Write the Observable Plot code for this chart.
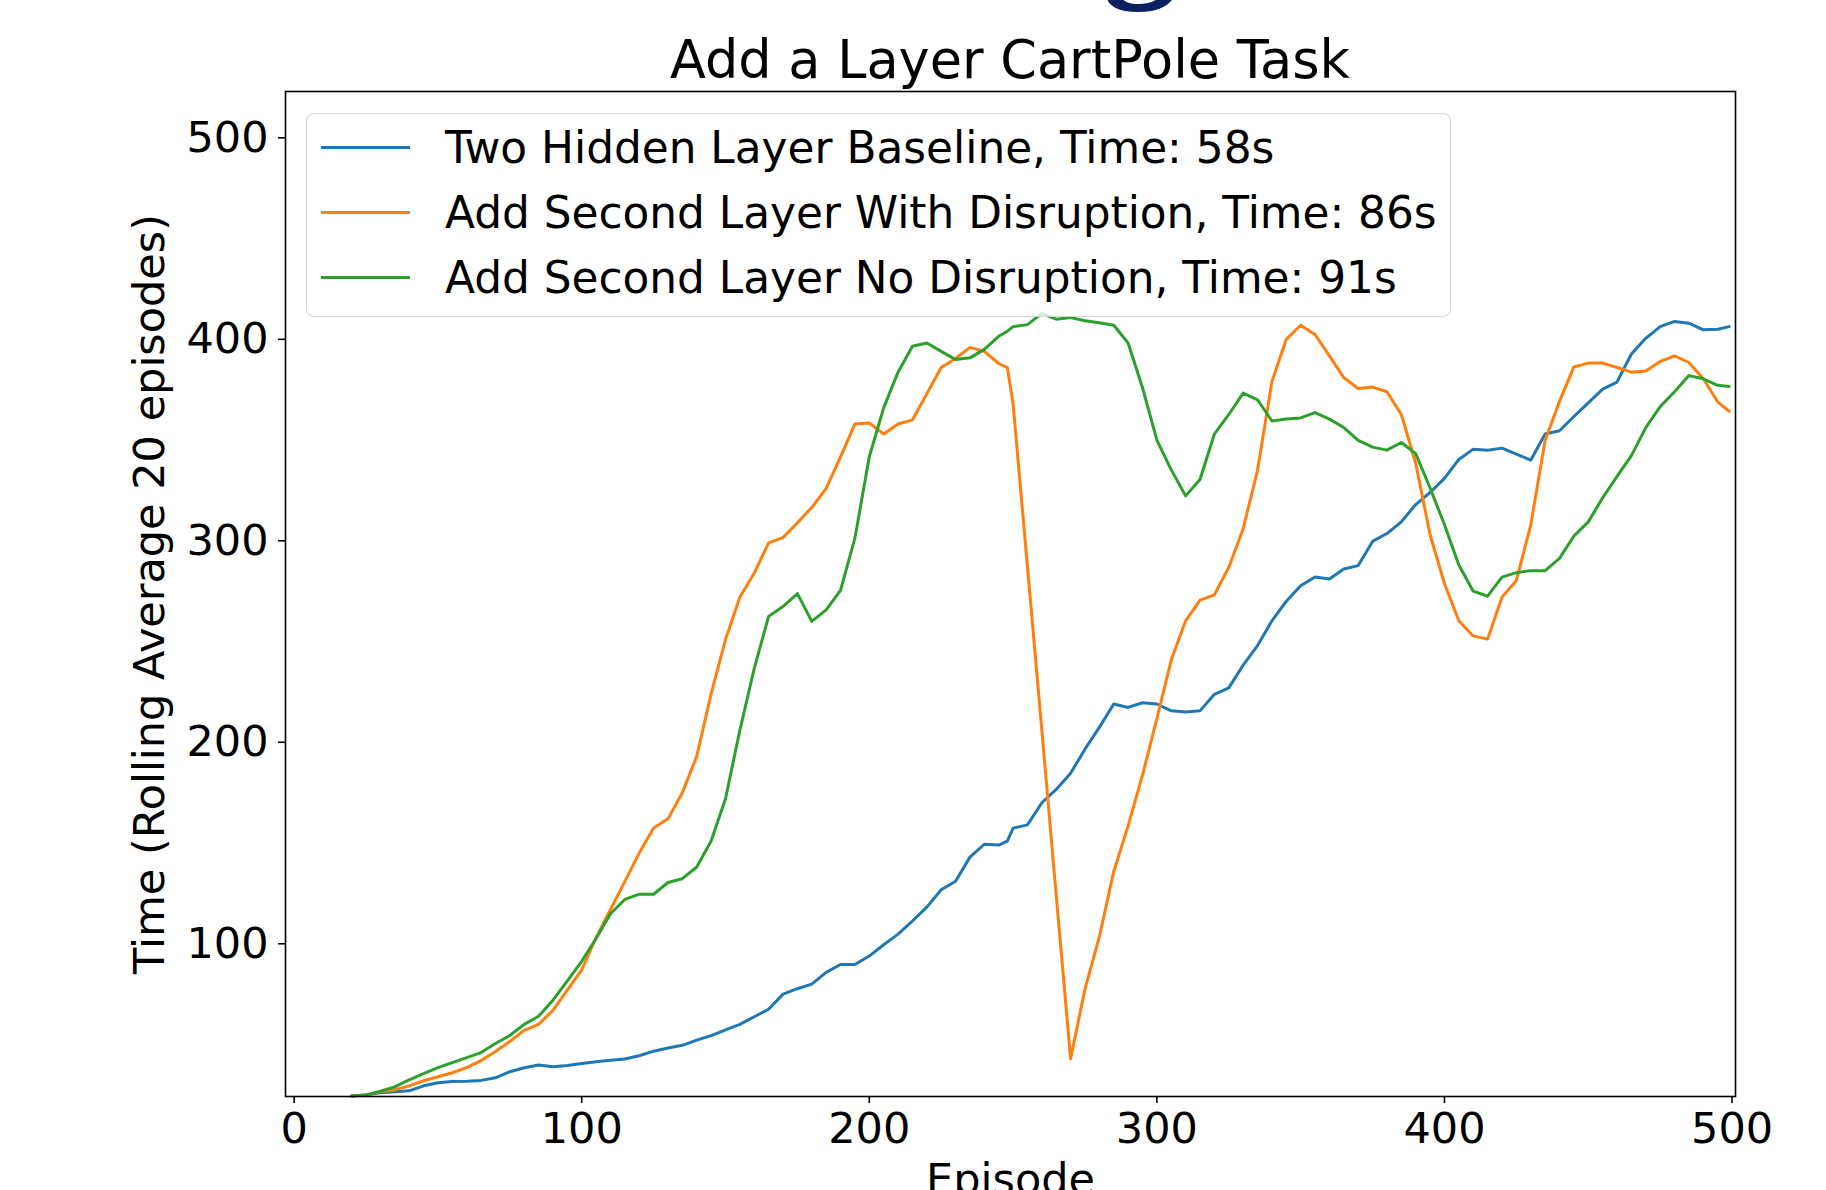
<!DOCTYPE html>
<html>
<head>
<meta charset="utf-8">
<script src="https://cdn.jsdelivr.net/npm/d3@7"></script>
<script src="https://cdn.jsdelivr.net/npm/@observablehq/plot@0.6"></script>
<style>
  html, body { margin:0; padding:0; background:#fff; }
  #wrap { position:relative; width:1826px; height:1190px; overflow:hidden; background:#fff; font-family:"DejaVu Sans", sans-serif; }
  #topglyph { position:absolute; left:1103px; top:-147px; font-weight:bold; font-size:150px; font-family:"Liberation Serif", serif; line-height:1; color:#0b2161; }
  #title { position:absolute; left:285px; width:1450px; top:34px; text-align:center; font-size:52.5px; line-height:1; color:#000; white-space:nowrap; }
  #chart { position:absolute; left:0; top:80px; }
  #legend { position:absolute; left:306px; top:113px; width:1143px; height:202px; border:1.6px solid rgba(204,204,204,0.8); border-radius:8px; background:rgba(255,255,255,0.8); }
  .row { position:absolute; left:0; height:60px; display:flex; align-items:center; font-size:43.8px; line-height:normal; color:#000; white-space:nowrap; }
  .swatch { width:89px; height:0; border-top:3px solid; margin-left:14px; margin-right:35px; }
</style>
</head>
<body>
<div id="wrap">
  <div id="topglyph">g</div>
  <div id="title"></div>
  <div id="chart"></div>
  <div id="legend"></div>
</div>
<script>
const titleText = "Add a Layer CartPole Task";
const xLabel = "Episode";
const yLabel = "Time (Rolling Average 20 episodes)";
const xTicks = [0, 100, 200, 300, 400, 500];
const yTicks = [100, 200, 300, 400, 500];
const seriesNames = [
  "Two Hidden Layer Baseline, Time: 58s",
  "Add Second Layer With Disruption, Time: 86s",
  "Add Second Layer No Disruption, Time: 91s"
];
const seriesColors = ["#1f77b4", "#ff7f0e", "#2ca02c"];

const episodes = [20,25,30,35,40,45,50,55,60,65,70,75,80,85,90,95,100,105,110,115,120,125,130,135,140,145,150,155,160,165,170,175,180,185,190,195,200,205,210,215,220,225,230,235,240,245,248,250,255,260,265,270,275,280,285,290,295,300,305,310,315,320,325,330,335,340,345,350,355,360,365,370,375,380,385,390,395,400,405,410,415,420,425,430,435,440,445,450,455,460,465,470,475,480,485,490,495,499];

const baseline = [24.5,25,26,26.5,27,29.5,31,31.7,31.8,32.2,33.5,36.5,38.5,39.8,39,39.6,40.6,41.5,42.2,42.8,44.4,46.7,48.3,49.6,52.2,54.4,57.3,60,63.8,67.5,75,77.7,80,85.8,89.7,89.7,93.9,99.5,104.8,111.3,118.2,126.8,131,143,149.4,149,151,157.4,159,170,176.6,184.6,196.6,207.4,219,217.3,219.6,219,215.6,215,215.6,223.8,227,238.3,248,260.3,270,277.7,282,281,286,287.7,299.7,303.6,309.4,318,324,331,340.4,345.5,345,346,343,340,353,354.6,361.7,368.5,375.3,378.8,392.7,400.5,406.3,408.9,408,404.7,405,406.3];

const withDisruption = [24.5,25,26.5,27.5,29.5,32,34,36,38.5,42,46.5,51.5,57,60,67,77,87,103,117,131,145,157.5,162,175,193,224,251,272,284,299,301.6,309,316.5,326,341.7,358,358.5,353,358,360,373,386,390.5,396,394,388,386,368,287,206,124,43,77.5,103.4,135.9,158.5,183.7,211.8,240.9,260.3,270.6,273.2,286.8,306,335,379,400,407,402.4,391.8,381,375.6,376.3,374,362.7,338.5,303,278.7,260.3,252.8,251.2,272,280.3,307.8,349.8,369.2,386.3,388.2,388.2,386,383.7,384.3,389,391.8,388.5,380.4,369,364.3];

const noDisruption = [24.5,25,26.8,29,32.5,35.5,38.5,41,43.5,46,50.5,54.5,60,64,72,81.6,91.3,102.6,114.9,122,124.6,124.6,130.4,132.3,138.1,151,172,206,236.7,262.5,267.4,273.8,260,265.7,275.4,301.3,341.7,366,383.7,396.6,398.2,394,390,390.8,395,401.5,404,406.3,407.3,412.8,410,410.8,409.2,408.2,407,398.2,376,350,335.2,322.3,330.4,353,362.7,373.3,370,359.5,360.4,361,363.6,360.4,356.2,349.8,346.5,345,348.8,343.3,326.2,308,288,275,272.5,282,284.2,285.2,285.2,291.3,302.3,309.4,321.3,332,342.3,356.2,366.6,374,382,380.4,377.2,376.6];

const seriesValues = [baseline, withDisruption, noDisruption];
const rows = [];
seriesValues.forEach((vals, s) => {
  episodes.forEach((e, i) => rows.push({episode: e, value: vals[i], series: seriesNames[s]}));
});

document.getElementById("title").textContent = titleText;

const chart = Plot.plot({
  width: 1826,
  height: 1110,
  marginTop: 11,
  marginRight: 91,
  marginBottom: 94,
  marginLeft: 285,
  style: {fontFamily: '"DejaVu Sans", sans-serif', fontSize: "43px", color: "#000", background: "none", overflow: "visible"},
  x: {domain: [-3, 501.2]},
  y: {domain: [24.2, 523]},
  color: {domain: seriesNames, range: seriesColors},
  marks: [
    Plot.line(rows, {x: "episode", y: "value", stroke: "series", z: "series", strokeWidth: 3, strokeLinejoin: "round"}),
    Plot.frame({stroke: "#000", strokeWidth: 1.6}),
    Plot.axisX({ticks: xTicks, tickSize: 7, tickPadding: 9, strokeWidth: 1.6, fontSize: 43, tickFormat: d => String(d),
      label: xLabel, labelAnchor: "center", labelOffset: 97, labelArrow: "none"}),
    Plot.axisY({ticks: yTicks, tickSize: 7, tickPadding: 10, strokeWidth: 1.6, fontSize: 43, tickFormat: d => String(d),
      label: yLabel, labelAnchor: "center", labelOffset: 152, labelArrow: "none"})
  ]
});
document.getElementById("chart").appendChild(chart);

const legend = document.getElementById("legend");
const rowTops = [3.4, 68.4, 133.4];
seriesNames.forEach((name, i) => {
  const row = document.createElement("div");
  row.className = "row";
  row.style.top = rowTops[i] + "px";
  const sw = document.createElement("div");
  sw.className = "swatch";
  sw.style.borderTopColor = seriesColors[i];
  const tx = document.createElement("span");
  tx.textContent = name;
  row.appendChild(sw);
  row.appendChild(tx);
  legend.appendChild(row);
});
</script>
</body>
</html>
